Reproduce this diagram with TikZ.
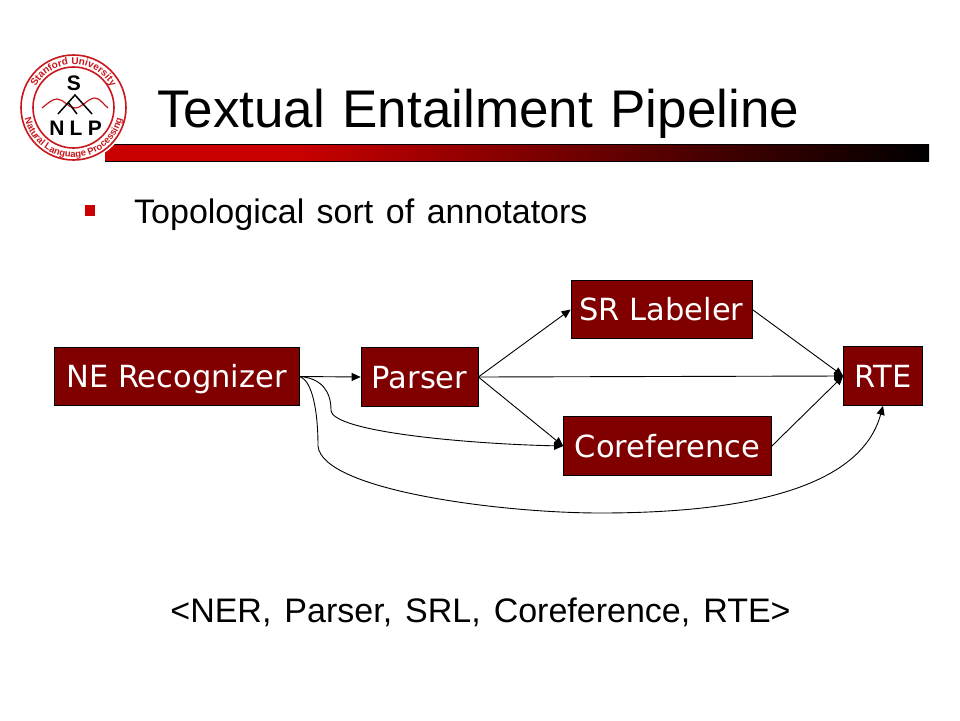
\documentclass[tikz,border=0pt]{standalone}
\usepackage{fontspec}
\setmainfont{Liberation Sans}
\newfontfamily\boxfont{DejaVu Sans}
\usetikzlibrary{arrows.meta,decorations.text}
\definecolor{boxred}{HTML}{800000}
\definecolor{logored}{HTML}{C8181E}
\definecolor{bulletred}{HTML}{CC0000}
\pgfdeclarehorizontalshading{barshade}{100bp}{rgb(0bp)=(0.784,0,0); rgb(36.8bp)=(0.784,0,0); rgb(75bp)=(0,0,0); rgb(100bp)=(0,0,0)}
\tikzset{
  x=1pt,y=-1pt,
  pbox/.style={draw=black,line width=0.7pt,fill=boxred,text=white,inner sep=0pt,text height=22pt,text depth=0pt,font=\boxfont\fontsize{30.5}{32}\selectfont},
  conn/.style={draw=black,line width=0.9pt,-{Triangle[length=9pt,width=8pt]}},
  logoletter/.style={inner sep=0pt,font=\bfseries\fontsize{21}{22}\selectfont},
}
\begin{document}
\begin{tikzpicture}
\useasboundingbox (0,0) rectangle (960,720);
\fill[white] (0,0) rectangle (960,720);
% title bar
\shade[shading=barshade,draw=none] (105,144) rectangle (929,161);
\draw[black,line width=0.7pt] (105,144) -- (929,144) (105,161) -- (929,161);
% logo
\fill[white] (73.5,107.5) circle (55);
\draw[logored,line width=1.6pt] (73.5,107.5) circle (52.5);
\draw[logored,line width=1.6pt] (73.5,107.5) circle (40.5);
\path[postaction={decorate,decoration={text along path,text align=center,
   text={|\bfseries\fontsize{10}{12}\selectfont\color{logored}|Stanford University}}}]
   (30.5,107.5) arc[start angle=180,end angle=360,radius=43];
\path[postaction={decorate,decoration={text along path,text align=center,
   text={|\bfseries\fontsize{9.5}{12}\selectfont\color{logored}|Natural Language Processing}}}]
   (23.5,107.5) arc[start angle=180,end angle=0,radius=50];
\draw[logored,line width=1.2pt] (42,108) .. controls (47,104) and (52,99) .. (57,99)
   .. controls (64,99) and (68,108) .. (75,108) .. controls (82,108) and (88,98) .. (95,98) .. controls (100,98) and (104,105) .. (108,108);
\draw[black,line width=1.5pt] (58,114) -- (75,95) -- (92,114) (68,102) -- (77,114);
\node[logoletter] (logoS) at (74,83) {S};
\node[logoletter] (logoN) at (57,128) {N};
\node[logoletter] (logoL) at (76,128) {L};
\node[logoletter] (logoP) at (95,128) {P};
% title and text
\node[anchor=base west,inner sep=0pt,font=\fontsize{53}{60}\selectfont] (title) at (157,127) {\spaceskip 17.5pt\relax Textual Entailment Pipeline};
\fill[bulletred] (84.5,205) rectangle (95,215.5);
\node[anchor=base west,inner sep=0pt,font=\fontsize{34}{40}\selectfont] (bullet) at (134,223) {\spaceskip 12.5pt\relax Topological sort of annotators};
\node[anchor=base,inner sep=0pt,font=\fontsize{34}{36}\selectfont] (order) at (480.5,622) {\spaceskip 13pt\relax <NER, Parser, SRL, Coreference, RTE>};
% boxes
\node[pbox,minimum width=245pt,minimum height=58pt] (ner) at (176.5,376.5) {NE Recognizer};
\node[pbox,minimum width=117pt,minimum height=59pt] (parser) at (419.5,377) {Parser};
\node[pbox,minimum width=181pt,minimum height=58pt] (srl) at (661.5,309.5) {SR Labeler};
\node[pbox,minimum width=208pt,minimum height=59pt] (coref) at (667.5,446) {Coreference};
\node[pbox,minimum width=79pt,minimum height=59pt] (rte) at (883,376) {RTE};
% connectors
\draw[conn] (ner.east) -- (parser.west);
\draw[conn] (parser.east) -- (srl.west);
\draw[conn] (parser.east) -- (rte.west);
\draw[conn] (parser.east) -- (coref.west);
\draw[conn] (srl.east) -- (rte.west);
\draw[conn] (coref.east) -- (rte.west);
\draw[conn] (ner.east) .. controls (322,378) and (331,392) .. (331,410)
   .. controls (331,432) and (470,444) .. (coref.west);
\draw[conn] (ner.east) .. controls (312,380) and (318,410) .. (318,446)
   .. controls (322,490) and (500,513) .. (600,513)
   .. controls (740,513) and (860,490) .. (rte.south);
\end{tikzpicture}
\end{document}
